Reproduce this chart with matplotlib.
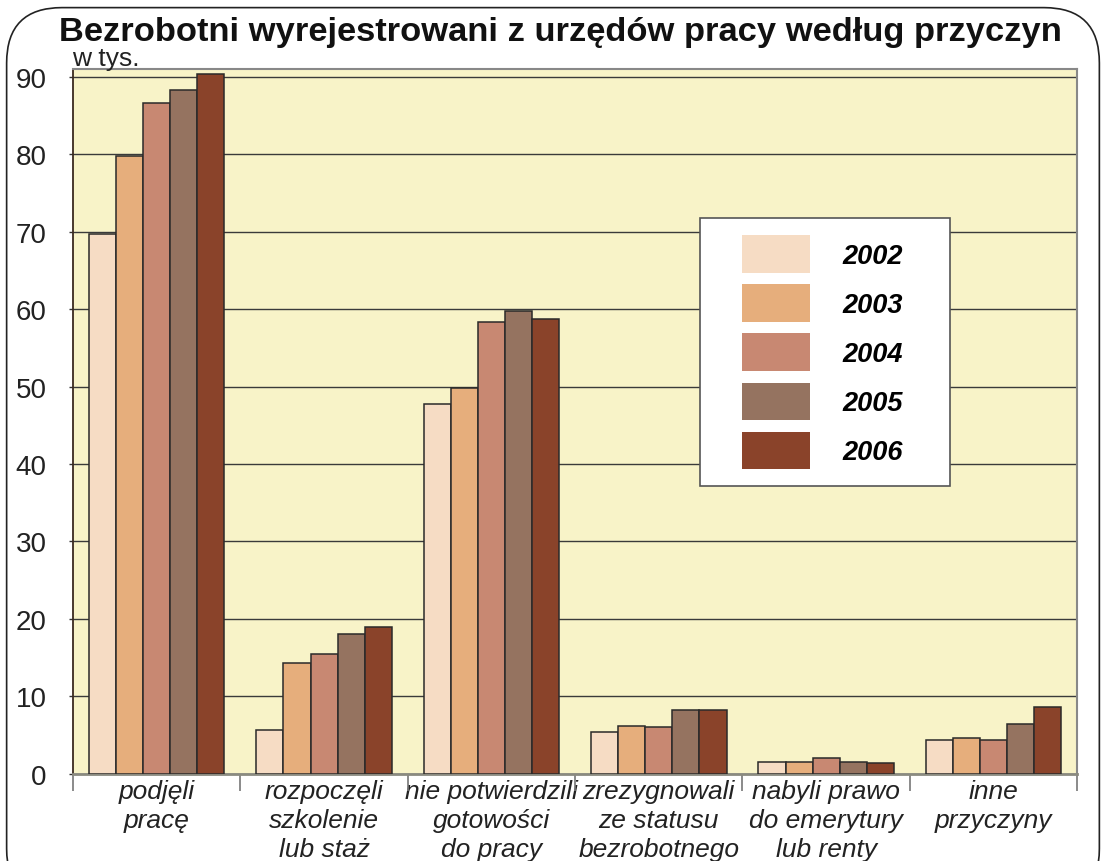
import matplotlib.pyplot as plt
import numpy as np
from matplotlib.patches import FancyBboxPatch, Rectangle

plt.rcParams['font.family'] = ['Liberation Sans', 'DejaVu Sans']

categories = ["podjęli\npracę", "rozpoczęli\nszkolenie\nlub staż",
              "nie potwierdzili\ngotowości\ndo pracy", "zrezygnowali\nze statusu\nbezrobotnego",
              "nabyli prawo\ndo emerytury\nlub renty", "inne\nprzyczyny"]
years = ["2002", "2003", "2004", "2005", "2006"]
values = {
    "2002": [69.7, 5.7, 47.7, 5.4, 1.6, 4.4],
    "2003": [79.7, 14.3, 49.8, 6.2, 1.5, 4.7],
    "2004": [86.6, 15.5, 58.3, 6.0, 2.1, 4.4],
    "2005": [88.3, 18.1, 59.7, 8.2, 1.5, 6.4],
    "2006": [90.3, 19.0, 58.7, 8.3, 1.4, 8.7],
}
colors = ["#F6DCC4", "#E6AE7C", "#C88872", "#957360", "#8A432A"]
yticks = [0, 10, 20, 30, 40, 50, 60, 70, 80, 90]

fig = plt.figure(figsize=(11.06, 8.62), dpi=100)

# rounded outer frame
frame = FancyBboxPatch((0.006, -0.05), 0.988, 1.04, boxstyle="round,pad=0,rounding_size=0.05",
                       transform=fig.transFigure, facecolor="white", edgecolor="#222222",
                       linewidth=1.2, mutation_aspect=1106 / 862, zorder=-5)
fig.patches.append(frame)

ax = fig.add_axes([0.066, 0.101, 0.908, 0.818])
ax.set_zorder(2)
ax.set_facecolor("#F8F3C8")

x = np.arange(len(categories))
width = 0.162
for i, yr in enumerate(years):
    ax.bar(x + (i - 2) * width, values[yr], width, color=colors[i],
           edgecolor="#2a2a2a", linewidth=1.1, label=yr, zorder=3)

ax.set_ylim(0, 91)
ax.set_xlim(-0.5, len(categories) - 0.5)
ax.set_yticks(yticks)
ax.set_yticklabels([str(v) for v in yticks], fontsize=20, color="#222222")
ax.tick_params(axis="y", length=3, width=1, color="#333333", pad=16)
ax.yaxis.grid(True, color="#3a3a3a", linewidth=1.0, zorder=1)
ax.set_axisbelow(True)

ax.set_xticks(x)
ax.set_xticklabels(categories, fontsize=19, style="italic", color="#222222", linespacing=1.25, va="top")
ax.tick_params(axis="x", length=0, pad=4)
ax.set_xticks(np.arange(-0.5, len(categories)), minor=True)
ax.tick_params(axis="x", which="minor", length=12, color="#777777", width=1.2)

for side in ["top", "right"]:
    ax.spines[side].set_color("#888888")
    ax.spines[side].set_linewidth(1.5)
ax.spines["left"].set_color("#3a2a20")
ax.spines["left"].set_linewidth(1.3)
ax.spines["bottom"].set_color("#8a8a80")
ax.spines["bottom"].set_linewidth(2.0)

fig.text(0.507, 0.962, "Bezrobotni wyrejestrowani z urzędów pracy według przyczyn",
         ha="center", va="center", fontsize=24.8, fontweight="bold", color="#111111")
fig.text(0.065, 0.932, "w tys.", ha="left", va="center", fontsize=19, color="#222222")

# legend box
box = Rectangle((700 / 1106, 1 - 487 / 862), 250 / 1106, 268 / 862, transform=fig.transFigure,
                facecolor="white", edgecolor="#555555", linewidth=1.2, zorder=4)
ax.add_artist(box)
box.set_clip_on(False)

leg = ax.legend(loc="upper left", bbox_to_anchor=(742 / 1106, 1 - 236 / 862),
                bbox_transform=fig.transFigure,
                prop={"weight": "bold", "style": "italic", "size": 19.5},
                handlelength=2.5, handleheight=1.77, labelspacing=0.42,
                handletextpad=1.2, borderpad=0, borderaxespad=0, frameon=False)
for h in leg.legend_handles:
    h.set_edgecolor("none")
leg.set_zorder(5)

fig.savefig("out.png", dpi=100)
